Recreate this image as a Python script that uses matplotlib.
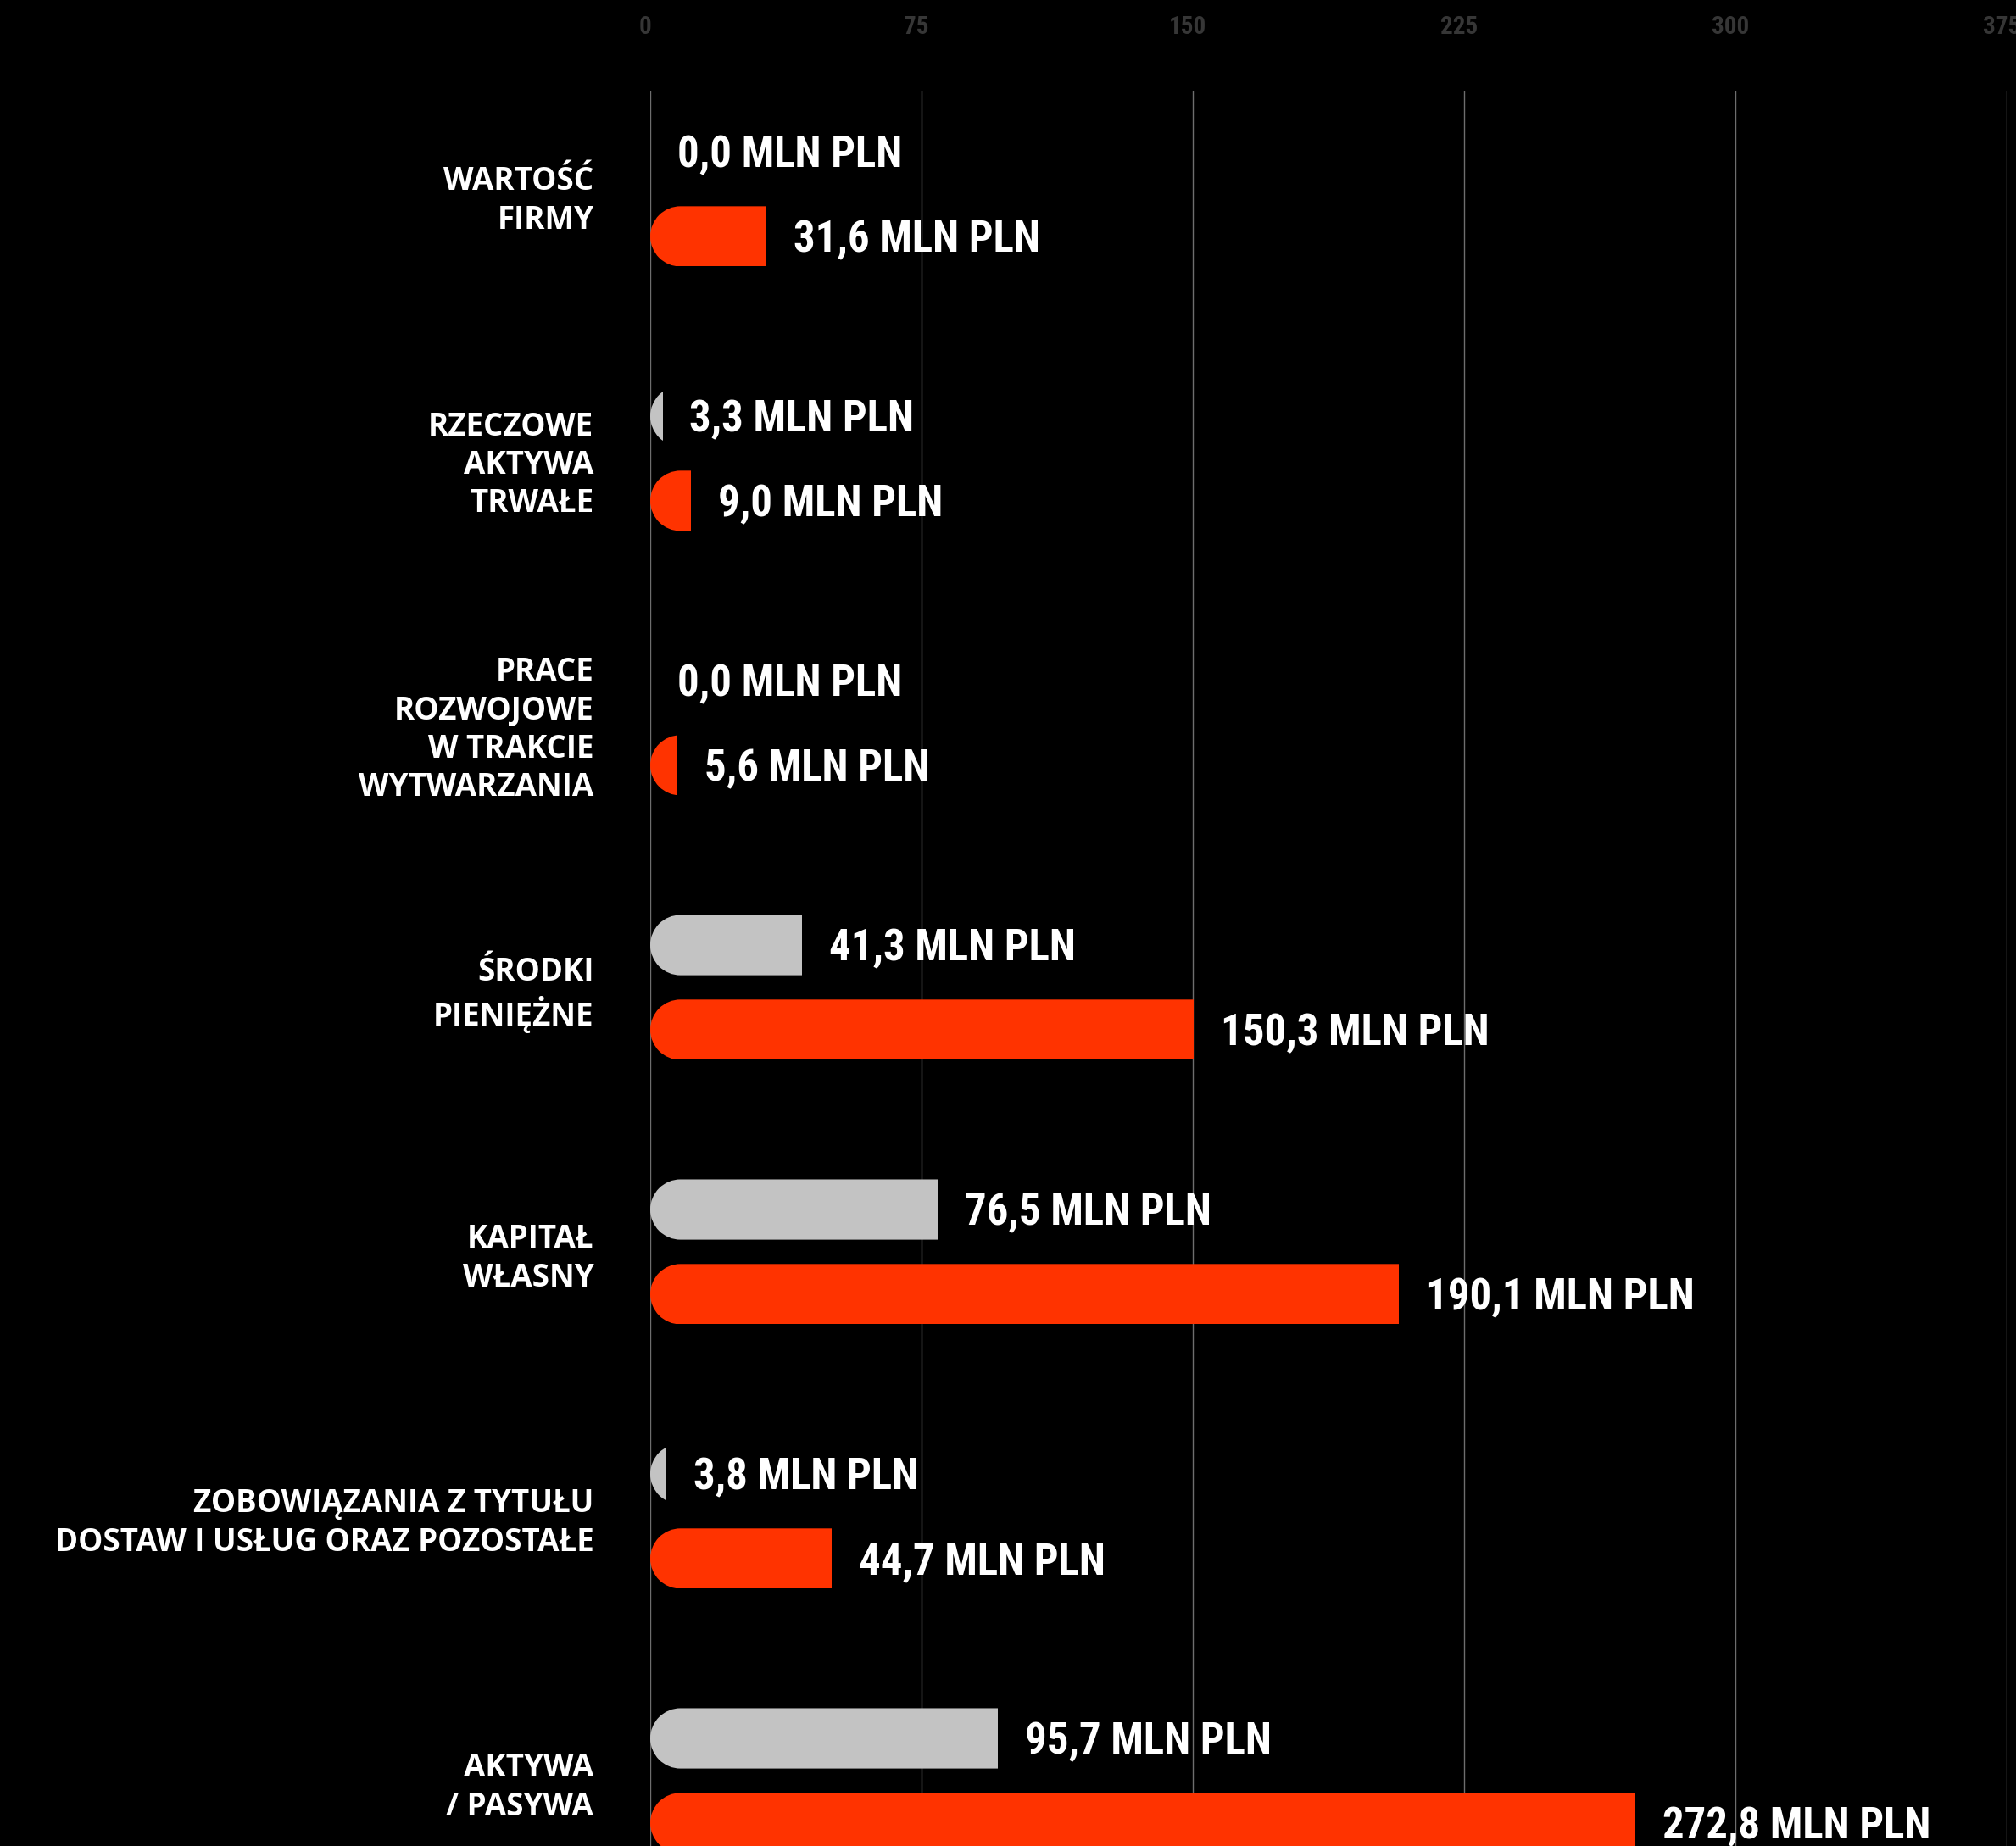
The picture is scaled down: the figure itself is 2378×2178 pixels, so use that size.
import matplotlib
matplotlib.use('Agg')
import matplotlib.pyplot as plt
from matplotlib import font_manager
from matplotlib.path import Path
from matplotlib.transforms import Affine2D, ScaledTranslation
import numpy as np

# ---Data---
categories = ['WARTOŚĆ\nFIRMY',
              'RZECZOWE\nAKTYWA\nTRWAŁE',
              'PRACE\nROZWOJOWE\nW TRAKCIE\nWYTWARZANIA',
              'ŚRODKI\nPIENIĘŻNE',
              'KAPITAŁ\nWŁASNY',
              'ZOBOWIĄZANIA Z TYTUŁU\nDOSTAW I USŁUG ORAZ POZOSTAŁE',
              'AKTYWA\n/ PASYWA']
# values printed on the chart
gray_values = [0.0, 3.3, 0.0, 41.3, 76.5, 3.8, 95.7]
orange_values = [31.6, 9.0, 5.6, 150.3, 190.1, 44.7, 272.8]
# bar lengths as drawn in the picture
gray_bars = [0.0, 3.4, 0.0, 42.0, 79.5, 4.4, 96.1]
orange_bars = [32.1, 11.3, 7.4, 150.2, 207.0, 50.2, 272.3]
xticks = [0, 75, 150, 225, 300, 375]

ORANGE = '#ff3300'
GRAY = '#c3c3c3'

names = {f.name for f in font_manager.fontManager.ttflist}
cond = next(n for n in ['Liberation Sans Narrow', 'Roboto Condensed', 'DejaVu Sans'] if n in names)
label_font = next(n for n in ['Open Sans', 'Lato', 'DejaVu Sans'] if n in names)

W, H = 2378, 2178
fig = plt.figure(figsize=(W / 100, H / 100), dpi=100, facecolor='black')
ax = fig.add_axes([767 / W, 0, (2367 - 767) / W, (H - 107) / H])
ax.set_facecolor('black')
ax.set_xlim(0, 375)
ax.set_ylim(6.247, -0.391)

for s in ax.spines.values():
    s.set_visible(False)

ax.set_axisbelow(True)
ax.xaxis.tick_top()
ax.set_xticks(xticks)
ax.set_xticklabels([str(t) for t in xticks], family=cond, fontsize=21,
                   fontweight='bold', color='#363636')
ax.tick_params(axis='x', length=0, pad=44)
shift = ScaledTranslation(-6 / 100, 0, fig.dpi_scale_trans)
for lab in ax.get_xticklabels():
    lab.set_transform(lab.get_transform() + shift)
ax.grid(axis='x', color='#6e6e6e', linewidth=1.0)

y = np.arange(len(categories))
ax.set_yticks(y)
ax.set_yticklabels(categories, family=label_font, fontweight='bold', fontsize=26.5,
                   color='white', linespacing=1.25)
ax.tick_params(axis='y', length=0, pad=48)

off = 0.16
bh = 0.228
g = ax.barh(y - off, gray_bars, height=bh, color=GRAY, linewidth=0)
o = ax.barh(y + off, orange_bars, height=bh, color=ORANGE, linewidth=0)

# rounded left end: clip each bar with a half-circle cap (circular in pixels)
p0 = ax.transData.transform((0, 0))
p1 = ax.transData.transform((1, 1))
px_x = abs(p1[0] - p0[0])
px_y = abs(p1[1] - p0[1])
h = bh / 2
rx = h * px_y / px_x
arc = Path.arc(90, 270)


def cap_clip(yc):
    verts = Affine2D().scale(rx, h).translate(rx, yc).transform(arc.vertices)
    verts = np.vstack([verts, [[1000, yc - h], [1000, yc + h], [rx, yc + h], [rx, yc + h]]])
    codes = list(arc.codes) + [Path.LINETO, Path.LINETO, Path.LINETO, Path.CLOSEPOLY]
    return Path(verts, codes)


for bars, pos in [(g, y - off), (o, y + off)]:
    for patch, yc in zip(bars, pos):
        patch.set_clip_path(cap_clip(yc), ax.transData)

# value labels
for vals, lens, pos in [(gray_values, gray_bars, y - off), (orange_values, orange_bars, y + off)]:
    for v, L, yc in zip(vals, lens, pos):
        txt = ('%.1f' % v).replace('.', ',') + ' MLN PLN'
        ax.annotate(txt, xy=(L, yc), xytext=(23, -13.3), textcoords='offset points',
                    ha='left', va='baseline', color='white', family=cond,
                    fontweight='bold', fontsize=36.5, annotation_clip=False)

fig.savefig('out.png', dpi=100, facecolor='black')
